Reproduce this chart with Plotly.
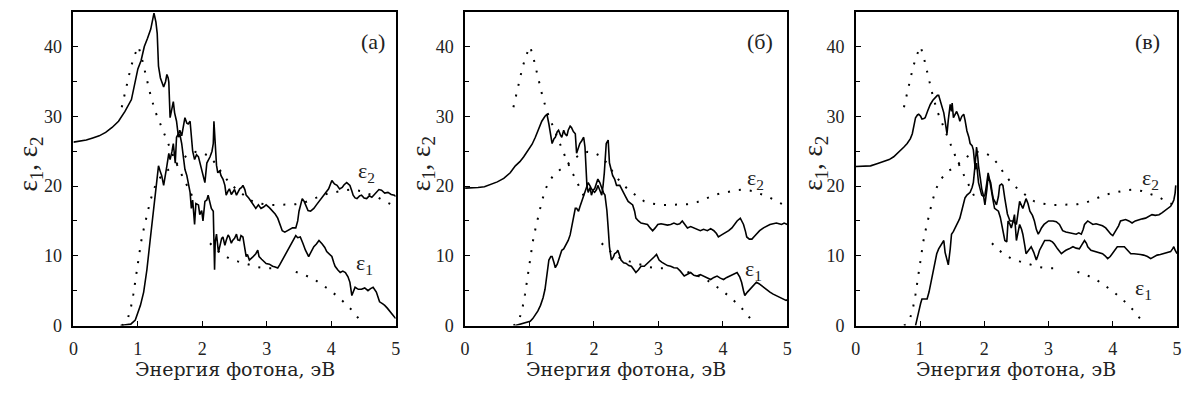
import plotly.graph_objects as go

W, H = 1187, 396

# ---------------- theory (dotted), same in all panels ----------------
th_e1_x = [0.75, 0.82, 0.89, 0.95, 1.01, 1.07, 1.14, 1.2, 1.27, 1.35, 1.42, 1.5, 1.58, 1.66, 1.74, 1.82, 1.9,
           None, 2.12, 2.2, 2.3, 2.42, 2.55, 2.7, 2.85, 3.0, 3.12,
           None, 3.45, 3.6, 3.74, 3.88, 3.99, 4.12, 4.25, 4.36, 4.48]
th_e1_y = [31.3, 34.2, 37.0, 38.8, 40.0, 38.0, 35.2, 32.9, 30.7, 28.8, 27.3, 25.5, 23.6, 22.0, 20.5, 19.0, 17.5,
           None, 11.8, 11.0, 10.3, 9.6, 9.2, 8.8, 8.4, 8.2, 8.2,
           None, 7.7, 7.2, 6.6, 5.7, 5.0, 4.0, 2.9, 1.8, 0.3]
th_e2_x = [0.75, 0.8, 0.85, 0.89, 0.93, 0.97, 1.01, 1.05, 1.09, 1.14, 1.19, 1.25, 1.31, 1.38, 1.45, 1.52, 1.6,
           1.7, 1.8, 1.9, 2.0, 2.1, 2.2, 2.3, 2.4, 2.53, 2.66, 2.78, 2.9, 3.04, 3.18, 3.3, 3.45, 3.6, 3.75,
           3.9, 4.05, 4.2, 4.32, 4.45, 4.57, 4.7, 4.83, 4.95]
th_e2_y = [0, 0.3, 1.2, 2.5, 4.5, 7.0, 9.6, 12.0, 13.8, 15.8, 17.8, 19.6, 20.8, 21.6, 22.2, 22.6, 23.2,
           24.0, 24.6, 24.9, 24.8, 24.3, 23.3, 21.9, 20.7, 19.5, 18.6, 17.8, 17.5, 17.3, 17.3, 17.3, 17.4, 17.7, 18.2,
           18.8, 19.1, 19.4, 19.5, 19.3, 18.9, 18.5, 17.8, 17.3]

# ---------------- panel (а) ----------------
a_e1 = [(0, 26.3), (0.1, 26.4), (0.2, 26.6), (0.3, 26.9), (0.4, 27.2), (0.5, 27.7), (0.6, 28.4), (0.7, 29.3),
        (0.8, 30.7), (0.9, 32.4), (0.95, 34.5), (1.0, 36.8), (1.05, 38.0), (1.1, 40.0), (1.15, 41.2), (1.2, 42.5),
        (1.25, 44.8), (1.28, 43.5), (1.3, 41.9), (1.32, 37.2), (1.35, 35.5), (1.37, 34.9), (1.4, 34.2),
        (1.43, 35.0), (1.45, 36.0), (1.47, 35.5), (1.48, 34.9), (1.5, 29.8), (1.52, 31.0), (1.55, 32.1),
        (1.57, 30.5), (1.6, 29.3), (1.63, 27.0), (1.65, 27.5), (1.68, 26.1), (1.7, 24.5), (1.73, 22.4),
        (1.76, 21.5), (1.78, 20.5), (1.81, 19.1), (1.83, 16.8), (1.85, 18.0), (1.88, 14.5), (1.9, 17.5),
        (1.94, 17.3), (1.96, 15.9), (1.99, 16.5), (2.01, 15.0), (2.04, 17.8), (2.07, 18.0), (2.09, 18.7),
        (2.12, 17.5), (2.14, 16.8), (2.17, 16.4), (2.19, 8.0), (2.2, 12.0), (2.22, 13.1), (2.25, 10.5),
        (2.27, 11.3), (2.3, 12.5), (2.32, 12.7), (2.35, 11.5), (2.37, 12.2), (2.4, 13.0), (2.42, 12.7),
        (2.45, 11.8), (2.47, 12.2), (2.5, 12.5), (2.53, 13.1), (2.55, 12.3), (2.58, 12.2), (2.6, 12.9),
        (2.63, 12.7), (2.66, 11.0), (2.68, 9.9), (2.7, 10.2), (2.73, 9.4), (2.78, 9.8), (2.83, 10.3),
        (2.86, 10.8), (2.88, 9.9), (2.92, 9.5), (2.95, 9.2), (2.99, 8.9), (3.04, 8.8), (3.09, 8.5), (3.13, 8.4),
        (3.17, 8.25), (3.2, 8.7), (3.24, 9.4), (3.3, 10.3), (3.35, 11.3), (3.4, 12.2), (3.45, 12.9),
        (3.48, 12.6), (3.52, 12.7), (3.56, 11.8), (3.6, 10.8), (3.65, 9.9), (3.69, 10.6), (3.73, 11.3),
        (3.77, 11.7), (3.81, 12.2), (3.86, 11.7), (3.9, 11.2), (3.93, 10.6), (3.97, 10.2), (4.01, 9.9),
        (4.04, 9.0), (4.06, 8.5), (4.1, 8.0), (4.14, 7.6), (4.18, 7.8), (4.22, 7.6), (4.26, 7.0), (4.29, 6.2),
        (4.32, 4.3), (4.35, 5.2), (4.37, 5.5), (4.42, 5.2), (4.47, 5.2), (4.52, 5.4), (4.57, 5.0), (4.61, 5.3),
        (4.65, 5.5), (4.7, 4.8), (4.75, 3.4), (4.8, 3.1), (4.83, 2.9), (4.87, 2.5), (4.91, 2.0), (4.95, 1.6),
        (5.0, 1.0)]
a_e2 = [(0.73, 0), (0.85, 0.1), (0.89, 0.2), (0.96, 0.8), (1.0, 1.8), (1.04, 2.9), (1.09, 4.8), (1.14, 8.0),
        (1.19, 12.2), (1.24, 16.4), (1.27, 19.1), (1.3, 21.5), (1.32, 22.9), (1.35, 22.0), (1.37, 21.5),
        (1.4, 20.1), (1.43, 21.5), (1.45, 22.9), (1.48, 24.7), (1.5, 23.8), (1.53, 25.0), (1.55, 26.1),
        (1.58, 23.3), (1.6, 27.0), (1.63, 27.5), (1.65, 28.0), (1.68, 27.2), (1.71, 28.9), (1.73, 29.8),
        (1.76, 29.0), (1.78, 28.9), (1.81, 29.3), (1.83, 26.6), (1.85, 25.0), (1.88, 23.8), (1.91, 24.5),
        (1.94, 24.2), (1.97, 23.0), (1.99, 22.4), (2.02, 21.0), (2.04, 20.5), (2.07, 23.3), (2.1, 23.8),
        (2.12, 24.2), (2.15, 25.0), (2.17, 26.1), (2.18, 29.3), (2.2, 25.2), (2.22, 23.0), (2.24, 21.9),
        (2.27, 22.2), (2.29, 21.5), (2.32, 21.0), (2.35, 20.1), (2.37, 18.7), (2.4, 19.3), (2.42, 19.6),
        (2.45, 18.8), (2.47, 19.1), (2.5, 19.5), (2.53, 18.7), (2.56, 19.3), (2.58, 19.6), (2.61, 19.8),
        (2.63, 20.1), (2.66, 19.5), (2.68, 18.7), (2.72, 18.3), (2.76, 17.8), (2.8, 17.2), (2.83, 16.8),
        (2.87, 17.3), (2.91, 16.8), (2.95, 17.0), (2.99, 17.3), (3.04, 16.9), (3.09, 16.4), (3.13, 16.0),
        (3.17, 15.4), (3.2, 14.5), (3.24, 13.6), (3.28, 13.4), (3.32, 13.6), (3.36, 13.8), (3.4, 14.0),
        (3.45, 14.0), (3.48, 15.0), (3.5, 16.4), (3.53, 17.5), (3.55, 18.2), (3.58, 17.8), (3.6, 17.3),
        (3.64, 16.5), (3.68, 16.4), (3.73, 16.8), (3.77, 17.3), (3.81, 17.8), (3.85, 18.3), (3.88, 18.7),
        (3.92, 19.2), (3.96, 19.6), (4.01, 20.8), (4.05, 20.3), (4.09, 20.1), (4.13, 19.6), (4.17, 19.8),
        (4.2, 20.2), (4.24, 20.5), (4.29, 20.1), (4.32, 19.3), (4.34, 18.7), (4.37, 18.3), (4.4, 18.2),
        (4.44, 18.6), (4.47, 18.7), (4.51, 18.3), (4.55, 18.2), (4.59, 18.6), (4.63, 18.4), (4.67, 18.8),
        (4.7, 19.1), (4.74, 19.5), (4.78, 19.4), (4.83, 19.0), (4.88, 19.1), (4.93, 18.8), (4.98, 18.7),
        (5.0, 18.5)]

# ---------------- panel (б) ----------------
b_e1 = [(0, 19.7), (0.1, 19.7), (0.2, 19.8), (0.3, 19.9), (0.4, 20.2), (0.5, 20.6), (0.6, 21.1), (0.7, 21.9),
        (0.78, 22.9), (0.85, 23.5), (0.91, 24.2), (0.99, 25.2), (1.04, 26.0), (1.09, 27.0), (1.14, 28.2),
        (1.19, 29.3), (1.24, 30.0), (1.27, 30.3), (1.3, 28.9), (1.33, 27.0), (1.35, 26.1), (1.38, 26.8),
        (1.4, 27.0), (1.43, 27.8), (1.45, 28.0), (1.48, 27.3), (1.5, 27.0), (1.53, 28.0), (1.55, 27.5),
        (1.58, 27.2), (1.6, 28.0), (1.63, 28.6), (1.65, 28.4), (1.68, 27.8), (1.71, 27.5), (1.73, 24.7),
        (1.76, 25.5), (1.78, 26.1), (1.81, 26.5), (1.84, 27.0), (1.86, 25.6), (1.88, 22.0), (1.89, 20.1),
        (1.91, 19.1), (1.94, 19.8), (1.96, 18.7), (1.99, 19.5), (2.01, 19.6), (2.04, 20.3), (2.06, 21.0),
        (2.09, 20.5), (2.12, 19.6), (2.15, 19.0), (2.17, 18.7), (2.2, 16.5), (2.22, 14.0), (2.24, 11.3),
        (2.27, 9.4), (2.3, 9.8), (2.32, 10.3), (2.35, 10.5), (2.37, 10.8), (2.4, 10.0), (2.42, 9.4),
        (2.46, 9.0), (2.5, 8.9), (2.54, 8.6), (2.58, 8.5), (2.62, 8.0), (2.65, 7.6), (2.69, 8.0), (2.73, 8.5),
        (2.78, 8.5), (2.83, 8.9), (2.88, 9.3), (2.94, 9.9), (2.97, 10.2), (3.01, 9.4), (3.05, 9.1), (3.09, 8.9),
        (3.14, 8.6), (3.19, 8.5), (3.24, 8.3), (3.29, 8.25), (3.34, 7.8), (3.4, 7.1), (3.45, 7.4), (3.5, 7.6),
        (3.55, 7.2), (3.6, 7.1), (3.65, 7.3), (3.7, 7.1), (3.75, 6.9), (3.81, 6.6), (3.86, 6.9), (3.91, 7.1),
        (3.96, 6.8), (4.01, 6.6), (4.06, 6.9), (4.11, 7.1), (4.16, 7.3), (4.22, 7.6), (4.26, 7.0), (4.29, 6.2),
        (4.32, 5.0), (4.34, 4.3), (4.38, 4.8), (4.42, 5.2), (4.47, 5.7), (4.52, 6.2), (4.56, 6.0), (4.6, 5.7),
        (4.64, 5.5), (4.68, 5.2), (4.73, 4.8), (4.78, 4.5), (4.83, 4.3), (4.88, 4.1), (4.93, 3.8), (4.98, 3.6),
        (5.0, 3.7)]
b_e2 = [(0.78, 0), (0.86, 0.2), (0.94, 0.4), (1.01, 0.6), (1.05, 1.0), (1.09, 1.5), (1.13, 2.1), (1.17, 2.9),
        (1.21, 4.0), (1.24, 5.2), (1.27, 7.0), (1.3, 9.4), (1.33, 9.9), (1.35, 9.9), (1.38, 9.0), (1.4, 8.3),
        (1.43, 8.8), (1.45, 9.4), (1.48, 10.2), (1.5, 10.8), (1.53, 11.0), (1.55, 11.3), (1.58, 11.8),
        (1.6, 12.2), (1.63, 13.0), (1.65, 14.0), (1.68, 15.5), (1.71, 16.8), (1.73, 16.8), (1.76, 16.4),
        (1.78, 17.0), (1.81, 17.8), (1.84, 18.5), (1.86, 19.1), (1.89, 20.0), (1.91, 20.5), (1.94, 20.0),
        (1.96, 19.6), (1.99, 19.3), (2.01, 19.1), (2.04, 19.5), (2.06, 20.1), (2.09, 19.4), (2.12, 18.7),
        (2.14, 20.0), (2.16, 21.9), (2.19, 26.1), (2.22, 26.6), (2.24, 23.3), (2.27, 22.0), (2.29, 21.5),
        (2.32, 21.0), (2.35, 20.1), (2.4, 20.1), (2.45, 19.1), (2.49, 18.5), (2.53, 17.8), (2.57, 17.5),
        (2.6, 17.3), (2.63, 16.4), (2.65, 15.4), (2.69, 15.0), (2.73, 14.7), (2.78, 14.6), (2.83, 14.5),
        (2.87, 14.0), (2.91, 13.6), (2.95, 14.0), (2.99, 14.5), (3.04, 14.6), (3.09, 14.5), (3.14, 14.4),
        (3.19, 14.5), (3.24, 14.7), (3.29, 14.5), (3.33, 14.6), (3.37, 15.0), (3.41, 14.5), (3.45, 14.0),
        (3.5, 14.2), (3.55, 14.0), (3.6, 13.8), (3.65, 13.6), (3.7, 13.8), (3.76, 13.6), (3.81, 13.9),
        (3.86, 13.6), (3.9, 13.2), (3.93, 12.7), (3.98, 13.0), (4.04, 13.3), (4.09, 13.6), (4.14, 14.0),
        (4.18, 14.5), (4.22, 15.0), (4.27, 15.4), (4.3, 14.9), (4.32, 14.5), (4.35, 13.5), (4.37, 12.7),
        (4.41, 12.4), (4.45, 12.4), (4.49, 12.8), (4.52, 13.1), (4.57, 13.6), (4.63, 14.0), (4.68, 14.3),
        (4.73, 14.5), (4.78, 14.6), (4.83, 14.7), (4.87, 14.6), (4.91, 14.5), (4.95, 14.7), (5.0, 14.5)]

# ---------------- panel (в) ----------------
c_e1 = [(0, 22.8), (0.1, 22.8), (0.23, 22.9), (0.33, 23.2), (0.44, 23.5), (0.52, 23.8), (0.59, 24.2),
        (0.65, 24.7), (0.7, 25.2), (0.75, 25.6), (0.8, 26.1), (0.85, 26.8), (0.88, 27.5), (0.91, 28.8),
        (0.93, 29.8), (0.96, 30.2), (0.98, 30.3), (1.01, 30.0), (1.03, 29.6), (1.06, 29.7), (1.08, 29.8),
        (1.12, 30.8), (1.16, 31.7), (1.2, 32.3), (1.24, 32.8), (1.27, 33.0), (1.29, 33.0), (1.31, 32.4),
        (1.34, 31.7), (1.37, 30.5), (1.39, 29.3), (1.42, 27.5), (1.44, 29.5), (1.47, 31.7), (1.49, 30.7),
        (1.5, 31.9), (1.52, 29.8), (1.55, 30.5), (1.57, 30.7), (1.6, 30.0), (1.62, 29.3), (1.65, 30.0),
        (1.68, 30.3), (1.7, 29.5), (1.73, 27.9), (1.76, 27.0), (1.78, 26.1), (1.81, 25.8), (1.83, 25.2),
        (1.86, 22.4), (1.88, 23.3), (1.91, 20.5), (1.94, 19.5), (1.96, 18.7), (1.99, 18.5), (2.01, 18.7),
        (2.04, 20.5), (2.06, 21.9), (2.08, 21.0), (2.1, 20.5), (2.12, 19.2), (2.14, 18.2), (2.17, 17.7),
        (2.19, 17.3), (2.22, 18.5), (2.24, 20.1), (2.27, 20.3), (2.29, 20.1), (2.32, 18.2), (2.36, 16.0),
        (2.4, 15.0), (2.45, 15.0), (2.5, 14.5), (2.53, 16.5), (2.55, 17.8), (2.6, 16.8), (2.63, 17.5),
        (2.65, 18.2), (2.68, 17.5), (2.71, 16.4), (2.75, 15.8), (2.78, 15.0), (2.81, 13.8), (2.84, 13.1),
        (2.87, 13.6), (2.89, 14.0), (2.93, 14.5), (2.96, 14.7), (3.0, 15.0), (3.07, 15.0), (3.12, 14.9),
        (3.17, 14.5), (3.2, 14.0), (3.22, 13.6), (3.27, 13.4), (3.32, 13.3), (3.38, 13.2), (3.43, 13.1),
        (3.47, 13.3), (3.51, 13.1), (3.54, 13.8), (3.56, 14.5), (3.61, 15.0), (3.65, 14.7), (3.69, 14.5),
        (3.74, 14.6), (3.79, 14.5), (3.84, 14.3), (3.89, 14.0), (3.93, 13.5), (3.97, 13.1), (4.0, 12.9),
        (4.05, 13.6), (4.09, 14.3), (4.12, 15.0), (4.16, 15.1), (4.2, 15.2), (4.25, 15.0), (4.3, 14.7),
        (4.35, 15.0), (4.41, 15.2), (4.46, 15.3), (4.51, 15.4), (4.56, 15.6), (4.61, 15.9), (4.66, 15.8),
        (4.72, 15.9), (4.77, 16.2), (4.82, 16.6), (4.86, 16.9), (4.9, 17.1), (4.93, 17.6), (4.95, 18.0),
        (4.97, 19.0), (4.98, 20.1)]
c_e2 = [(0.93, 0), (0.96, 1.0), (0.98, 2.0), (1.01, 3.2), (1.03, 3.8), (1.07, 3.8), (1.11, 3.8), (1.14, 4.8),
        (1.16, 5.7), (1.19, 7.0), (1.21, 8.0), (1.24, 9.2), (1.26, 10.3), (1.29, 11.0), (1.31, 11.3),
        (1.34, 11.8), (1.37, 12.2), (1.39, 10.5), (1.42, 9.4), (1.44, 8.7), (1.47, 11.0), (1.49, 13.1),
        (1.52, 13.5), (1.55, 14.0), (1.58, 14.5), (1.6, 15.0), (1.62, 15.4), (1.65, 16.5), (1.68, 17.8),
        (1.7, 18.3), (1.73, 18.7), (1.76, 19.0), (1.78, 19.1), (1.81, 19.8), (1.83, 20.5), (1.86, 23.3),
        (1.88, 25.6), (1.9, 24.0), (1.91, 22.9), (1.94, 21.0), (1.96, 19.6), (1.99, 18.5), (2.01, 17.3),
        (2.04, 19.5), (2.06, 21.5), (2.09, 20.5), (2.11, 19.1), (2.14, 17.8), (2.16, 16.8), (2.19, 16.6),
        (2.22, 16.4), (2.25, 15.5), (2.27, 14.5), (2.3, 13.5), (2.32, 12.2), (2.35, 12.0), (2.37, 15.0),
        (2.4, 14.5), (2.42, 14.0), (2.45, 15.0), (2.47, 15.9), (2.5, 12.2), (2.53, 13.5), (2.55, 14.5),
        (2.58, 13.8), (2.6, 13.1), (2.63, 11.5), (2.65, 10.3), (2.69, 10.8), (2.73, 11.3), (2.77, 10.5),
        (2.81, 9.4), (2.84, 10.2), (2.86, 10.8), (2.9, 11.5), (2.94, 12.2), (2.98, 12.2), (3.02, 12.2),
        (3.06, 12.0), (3.09, 11.7), (3.14, 11.0), (3.2, 10.3), (3.24, 10.6), (3.27, 10.8), (3.32, 11.0),
        (3.38, 11.3), (3.43, 11.1), (3.48, 11.0), (3.52, 11.6), (3.56, 12.2), (3.59, 11.8), (3.61, 11.3),
        (3.66, 10.8), (3.7, 10.7), (3.74, 10.6), (3.79, 10.5), (3.84, 10.3), (3.88, 10.0), (3.92, 9.6),
        (3.96, 9.9), (3.99, 10.3), (4.03, 10.8), (4.07, 11.3), (4.12, 11.3), (4.18, 11.3), (4.23, 10.8),
        (4.28, 10.3), (4.33, 10.3), (4.38, 10.3), (4.43, 10.2), (4.48, 10.1), (4.54, 9.9), (4.59, 9.6),
        (4.64, 9.9), (4.69, 10.1), (4.74, 10.2), (4.79, 10.3), (4.84, 10.5), (4.9, 10.6), (4.93, 11.0),
        (4.95, 11.3), (4.97, 10.8), (5.0, 10.3)]

panel_labels = ["(а)", "(б)", "(в)"]
panel_label_x = [4.65, 4.57, 4.54]
eps2_pos = [(4.55, 22.0), (4.5, 21.0), (4.58, 21.0)]
eps1_pos = [(4.52, 8.8), (4.48, 8.0), (4.48, 5.2)]
x_title = "Энергия фотона, эВ"
y_title = "ε<sub>1</sub>, ε<sub>2</sub>"
x_ticks = [0, 1, 2, 3, 4, 5]
y_ticks = [0, 10, 20, 30, 40]

# pixel layout
px_left = [69, 464, 858]
px_right = [394, 789, 1182]
px_top, px_bot = 12, 334
ytitle_px = [25, 421, 817]

FONT = "Liberation Serif, Times New Roman, serif"
TFONT = "DejaVu Serif, serif"
TXT = "#222"

fig = go.Figure()
panels = [(a_e1, a_e2), (b_e1, b_e2), (c_e1, c_e2)]
solid = dict(color="black", width=1.6)
dotted = dict(color="black", width=2, dash="2px,9px")

for i, (e1, e2) in enumerate(panels):
    xa = "x" if i == 0 else f"x{i+1}"
    ya = "y" if i == 0 else f"y{i+1}"
    fig.add_trace(go.Scatter(x=th_e1_x, y=th_e1_y, mode="lines", line=dotted, xaxis=xa, yaxis=ya,
                             showlegend=False, connectgaps=False))
    fig.add_trace(go.Scatter(x=th_e2_x, y=th_e2_y, mode="lines", line=dotted, xaxis=xa, yaxis=ya,
                             showlegend=False))
    fig.add_trace(go.Scatter(x=[p[0] for p in e1], y=[p[1] for p in e1], mode="lines", line=solid,
                             xaxis=xa, yaxis=ya, showlegend=False))
    fig.add_trace(go.Scatter(x=[p[0] for p in e2], y=[p[1] for p in e2], mode="lines", line=solid,
                             xaxis=xa, yaxis=ya, showlegend=False))

layout = dict(width=W, height=H, margin=dict(l=0, r=0, t=0, b=0), plot_bgcolor="white",
              paper_bgcolor="white", showlegend=False, font=dict(family=FONT, color="black"))
axis_common = dict(showgrid=False, zeroline=False, showline=True, mirror=True, linecolor="black",
                   linewidth=1.5, ticks="inside", ticklen=5, tickwidth=1, tickcolor="black",
                   tickfont=dict(family=FONT, size=18, color=TXT))
annotations = []
for i in range(3):
    sx = "" if i == 0 else str(i + 1)
    layout[f"xaxis{sx}"] = dict(axis_common, range=[0, 5], tickvals=x_ticks, ticktext=[str(t) for t in x_ticks],
                                domain=[px_left[i] / W, px_right[i] / W], ticklabelstandoff=6,
                                anchor=f"y{sx}")
    layout[f"yaxis{sx}"] = dict(axis_common, range=[0, 45], tickvals=y_ticks,
                                ticktext=[str(t) for t in y_ticks], ticklabelstandoff=6,
                                minor=dict(dtick=5, ticks="inside", ticklen=4, tickcolor="black", showgrid=False),
                                domain=[1 - px_bot / H, 1 - px_top / H], anchor=f"x{sx}")
    xr = "x" if i == 0 else f"x{i+1}"
    yr = "y" if i == 0 else f"y{i+1}"
    annotations.append(dict(x=panel_label_x[i], y=40.7, xref=xr, yref=yr, text=panel_labels[i],
                            xanchor="center", yanchor="middle",
                            showarrow=False, font=dict(size=22, family=FONT, color=TXT)))
    annotations.append(dict(x=eps2_pos[i][0], y=eps2_pos[i][1], xref=xr, yref=yr, text="ε<sub>2</sub>",
                            xanchor="center", yanchor="middle",
                            showarrow=False, font=dict(size=22, family=FONT, color=TXT)))
    annotations.append(dict(x=eps1_pos[i][0], y=eps1_pos[i][1], xref=xr, yref=yr, text="ε<sub>1</sub>",
                            xanchor="center", yanchor="middle",
                            showarrow=False, font=dict(size=22, family=FONT, color=TXT)))
    annotations.append(dict(x=(px_left[i] + px_right[i]) / 2 / W, y=1 - 379 / H, xref="paper", yref="paper",
                            xanchor="center", yanchor="middle",
                            text=x_title, showarrow=False, font=dict(size=19, family=TFONT, color=TXT)))
    annotations.append(dict(x=ytitle_px[i] / W, y=1 - 168 / H, xref="paper", yref="paper",
                            xanchor="center", yanchor="middle",
                            text=y_title, textangle=-90, showarrow=False,
                            font=dict(size=27, family=FONT, color=TXT)))
layout["annotations"] = annotations
fig.update_layout(**layout)
fig.write_html("out.html")
